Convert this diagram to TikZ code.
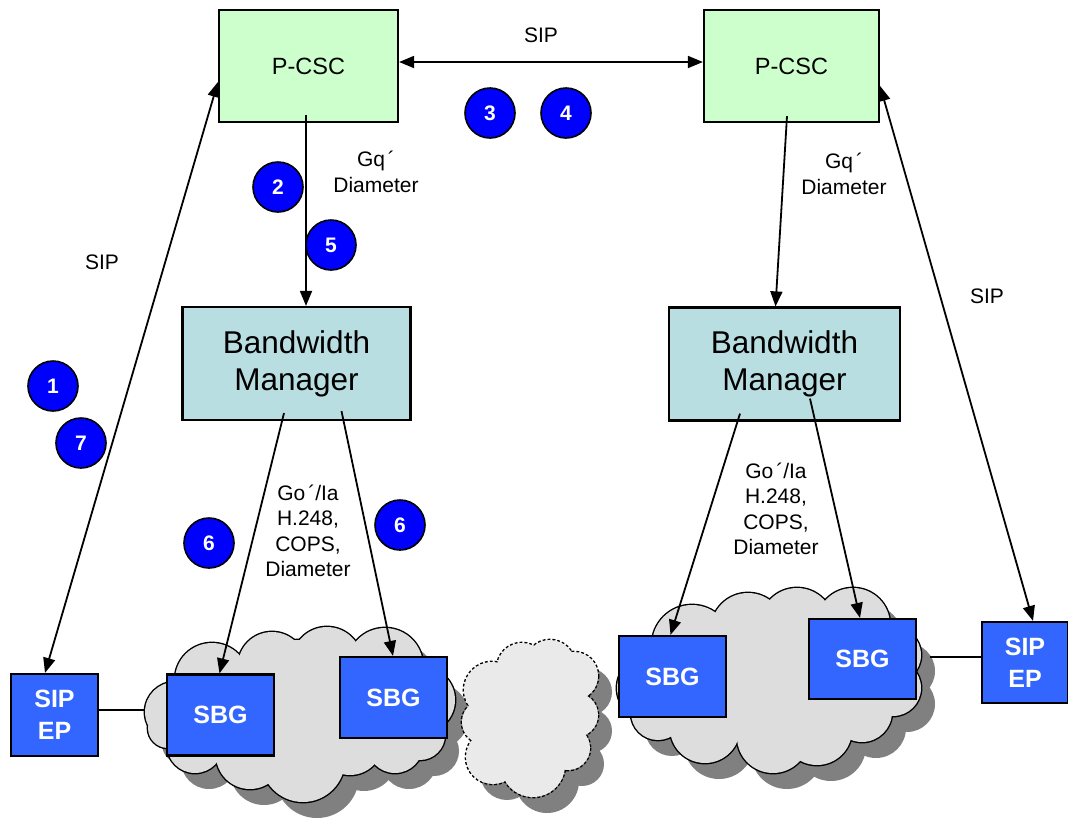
\documentclass[tikz,border=0pt]{standalone}
\usepackage{fontspec}
\setmainfont{Liberation Sans}
\usetikzlibrary{arrows.meta,calc}
\definecolor{pcscgreen}{HTML}{CCFFCC}
\definecolor{bmteal}{RGB}{185,222,226}
\definecolor{sbgblue}{HTML}{3366FF}
\definecolor{numblue}{HTML}{0000FF}
\definecolor{cloudgray}{HTML}{DDDDDD}
\definecolor{cloudlight}{HTML}{EAEAEA}
\definecolor{shadowgray}{HTML}{808080}
\newcommand\mycloud[3]{%
  \foreach \cx/\cy/\r in {#1} \fill[shadowgray] (\cx+14,\cy+16) circle (\r);
  \foreach \cx/\cy/\r in {#1} \draw[line width=2.8pt,#3] (\cx,\cy) circle (\r);
  \foreach \cx/\cy/\r in {#1} \fill[#2] (\cx,\cy) circle (\r);
}
\begin{document}
\begin{tikzpicture}[x=1pt,y=-1pt,
  box/.style={draw=black,line width=2.2pt,inner sep=0pt,align=center},
  pcsc/.style={box,fill=pcscgreen,minimum width=179pt,minimum height=112pt,font=\fontsize{23.5}{27}\selectfont},
  bm/.style={box,fill=bmteal,minimum width=228pt,minimum height=113pt,font=\fontsize{31.5}{37}\selectfont},
  sbg/.style={box,fill=sbgblue,text=white,minimum width=107pt,minimum height=81pt,font=\bfseries\fontsize{25}{30}\selectfont},
  sipep/.style={box,fill=sbgblue,text=white,minimum width=87pt,minimum height=82pt,font=\bfseries\fontsize{25}{32}\selectfont},
  num/.style={circle,draw=black,line width=1.6pt,fill=numblue,minimum size=50pt,inner sep=0pt,text=white,font=\bfseries\fontsize{21}{22}\selectfont},
  lbl/.style={align=center,inner sep=0pt,font=\fontsize{21}{25.5}\selectfont},
  conn/.style={line width=1.8pt,draw=black},
  tip/.style={-{Triangle[length=15pt,width=12pt]}},
  tips/.style={{Triangle[length=15pt,width=12pt]}-{Triangle[length=15pt,width=12pt]}}
]
\useasboundingbox (0,0) rectangle (1068,825);

% clouds
\mycloud{175/712/30,212/680/37,272/666/34,327/662/35,385/666/38,422/700/33,420/735/25,395/745/28,350/742/33,303/760/42,250/755/34,195/745/28,168/728/20,300/710/70,200/715/40,400/710/40}{cloudgray}{draw=black}
\mycloud{492/690/28,522/668/25,550/665/25,574/676/24,576/715/22,568/748/22,533/765/32,493/757/27,484/722/22,530/715/45}{cloudlight}{draw=black,dotted}
\mycloud{650/688/33,692/645/40,748/630/37,797/625/37,853/625/37,893/655/28,893/688/28,862/712/30,817/730/35,773/737/36,705/728/35,658/713/27,770/680/65,720/680/45,840/670/45}{cloudgray}{draw=black}
\coordinate (cloudLedge) at (145,710);
\coordinate (cloudRedge) at (930,657);

% nodes
\node[pcsc] (pcscL) at (308.5,66) {P-CSC};
\node[pcsc,minimum width=175pt] (pcscR) at (791.5,66) {P-CSC};
\node[bm] (bmL) at (296.5,363.5) {Bandwidth\\Manager};
\node[bm,minimum width=231pt] (bmR) at (784.5,364) {Bandwidth\\Manager};
\node[sbg] (sbg1) at (220.5,715) {SBG};
\node[sbg] (sbg2) at (393.5,697.5) {SBG};
\node[sbg] (sbg3) at (672.5,676.5) {SBG};
\node[sbg,minimum height=80pt] (sbg4) at (862.5,659) {SBG};
\node[sipep] (sipL) at (54.5,715) {SIP\\EP};
\node[sipep,minimum width=86pt,minimum height=81pt] (sipR) at (1025,662.5) {SIP\\EP};

% connectors
\draw[conn,tips] ($(pcscL.east)+(0,-4)$) -- ($(pcscR.west)+(0,-4)$);
\draw[conn,tip] ($(pcscL.south)+(-2.5,-8)$) -- ($(bmL.north)+(9.5,0)$);
\draw[conn,tip] ($(pcscR.south)+(-4.5,-7)$) -- ($(bmR.north)+(-9,0)$);
\draw[conn,tips] ($(pcscL.west)+(0,16)$) -- ($(sipL.north)+(-9.5,0)$);
\draw[conn,tips] ($(pcscR.east)+(0,20)$) -- ($(sipR.north)+(8,0)$);
\draw[conn,tip] ($(bmL.south)+(-12.5,-8)$) -- ($(sbg1.north)+(-1,0)$);
\draw[conn,tip] ($(bmL.south)+(45,-10)$) -- ($(sbg2.north)+(-0.5,0)$);
\draw[conn,tip] ($(bmR.south)+(-44.5,-8)$) -- ($(sbg3.north)+(-2,0)$);
\draw[conn,tip] ($(bmR.south)+(25.5,-23)$) -- ($(sbg4.north)+(-2.5,0)$);
\draw[conn] ($(sipL.east)+(0,-5)$) -- (cloudLedge);
\draw[conn] (cloudRedge) -- ($(sipR.west)+(0,-5.5)$);

% numbered circles
\node[num] (n1) at (53,386) {1};
\node[num] (n7) at (81,443) {7};
\node[num] (n2) at (278,187) {2};
\node[num] (n5) at (331,245) {5};
\node[num] (n3) at (490,113) {3};
\node[num] (n4) at (566,113) {4};
\node[num] (n6a) at (209,543) {6};
\node[num] (n6b) at (400,525) {6};

% labels
\node[lbl] (sipTop) at (541,35) {SIP};
\node[lbl] (gqL) at (376,172) {Gq\kern3pt´\\Diameter};
\node[lbl] (gqR) at (844,174) {Gq\kern3pt´\\Diameter};
\node[lbl] (sipLl) at (102,262) {SIP};
\node[lbl] (sipRl) at (987,296) {SIP};
\node[lbl] (goL) at (308,531) {Go\kern3pt´/Ia\\H.248,\\COPS,\\Diameter};
\node[lbl] (goR) at (776,509) {Go\kern3pt´/Ia\\H.248,\\COPS,\\Diameter};
\end{tikzpicture}
\end{document}
